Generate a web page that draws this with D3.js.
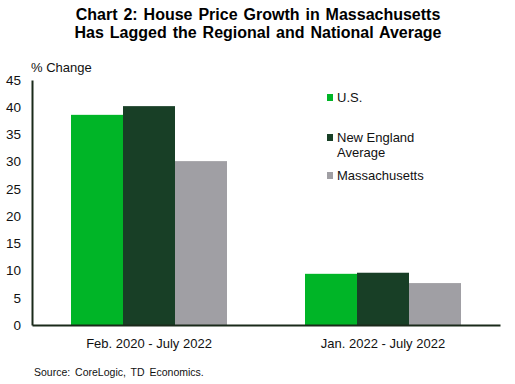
<!DOCTYPE html>
<html><head><meta charset="utf-8">
<script src="https://cdn.jsdelivr.net/npm/d3@7"></script>
<style>body{margin:0;background:#fff}svg{display:block;font-family:"Liberation Sans",Arial,sans-serif}</style>
</head><body><svg id="c" width="515" height="384"></svg>
<script>
const categories = ["Feb. 2020 - July 2022", "Jan. 2022 - July 2022"];
const seriesNames = ["U.S.", "New England Average", "Massachusetts"];
const usValues = [38.6, 9.4];
const neValues = [40.2, 9.6];
const maValues = [30.1, 7.7];
const yTicks = [0, 5, 10, 15, 20, 25, 30, 35, 40, 45];
const colors = ["#00B527", "#183F26", "#A09FA4"];

const svg = d3.select("#c");
const x0 = d3.scaleBand().domain(categories).range([32, 500]).paddingInner(0).paddingOuter(0);
const x1 = d3.scaleBand().domain(seriesNames).range([x0.bandwidth()/6, x0.bandwidth()*5/6]);
const y = d3.scaleLinear().domain([0, 45]).range([325, 80]);
const allVals = [usValues, neValues, maValues];

// title
svg.append("text").attr("x", 258).attr("y", 20).attr("text-anchor", "middle")
  .attr("font-size", 16).attr("font-weight", "bold").attr("fill", "#000").attr("word-spacing", 1.5)
  .text("Chart 2: House Price Growth in Massachusetts");
svg.append("text").attr("x", 258).attr("y", 38).attr("text-anchor", "middle")
  .attr("font-size", 16).attr("font-weight", "bold").attr("fill", "#000").attr("word-spacing", 1.5)
  .text("Has Lagged the Regional and National Average");

// bars
categories.forEach((c, ci) => {
  seriesNames.forEach((s, si) => {
    const v = allVals[si][ci];
    svg.append("rect").attr("x", x0(c) + x1(s)).attr("width", x1.bandwidth())
      .attr("y", y(v)).attr("height", y(0) - y(v)).attr("fill", colors[si]);
  });
});

// y axis
const yAxis = d3.axisLeft(y).tickValues(yTicks).tickSize(0).tickPadding(11);
const gy = svg.append("g").attr("transform", "translate(32,0)").call(yAxis);
gy.select(".domain").attr("stroke", "#1a2a1a").attr("stroke-width", 2);
gy.selectAll("text").attr("font-size", 13.5).attr("fill", "#111").attr("font-family", "Liberation Sans, Arial, sans-serif");

// x axis
const xAxis = d3.axisBottom(x0).tickSize(0).tickPadding(14);
const gx = svg.append("g").attr("transform", "translate(0,325)").call(xAxis);
gx.select(".domain").attr("stroke", "#1a2a1a").attr("stroke-width", 2);
gx.selectAll("text").attr("font-size", 13).attr("fill", "#111").attr("font-family", "Liberation Sans, Arial, sans-serif");

// y label
svg.append("text").attr("x", 31).attr("y", 72).attr("font-size", 13).attr("fill", "#111").text("% Change");

// legend
const legendRows = [
  {lines: ["U.S."], y: 97},
  {lines: ["New England", "Average"], y: 137},
  {lines: ["Massachusetts"], y: 175}
];
legendRows.forEach((r, i) => {
  svg.append("rect").attr("x", 327).attr("y", r.y - 3).attr("width", 6).attr("height", 7).attr("fill", colors[i]);
  r.lines.forEach((l, li) => {
    svg.append("text").attr("x", 337).attr("y", r.y + 5 + li * 15).attr("font-size", 13).attr("fill", "#111").text(l);
  });
});

// source
svg.append("text").attr("x", 34).attr("y", 376).attr("font-size", 10.5).attr("fill", "#111")
  .attr("word-spacing", 2).text("Source: CoreLogic, TD Economics.");
</script></body></html>
